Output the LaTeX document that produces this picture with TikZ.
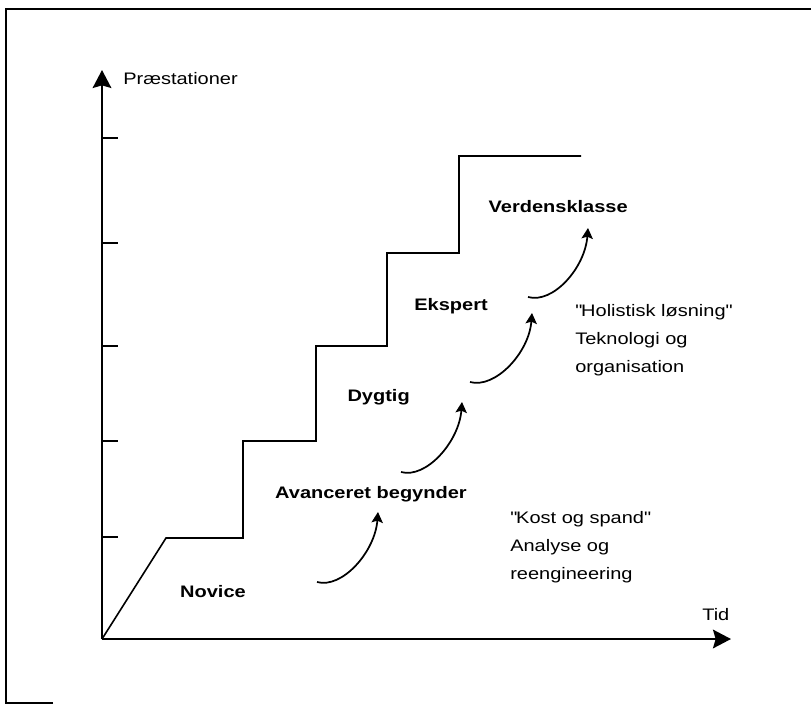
\documentclass[tikz,border=0pt]{standalone}
\usepackage{fontspec}
\setmainfont{Liberation Sans}[FakeStretch=1.2]
\usetikzlibrary{arrows.meta}
\begin{document}
\begin{tikzpicture}[x=0.75pt,y=-0.75pt,
  every node/.style={inner sep=0pt},
  axis/.style={line width=1.5pt,-{Stealth[length=13.5pt,width=14pt,inset=2pt]}},
  stair/.style={line width=1.2pt},
  tickmark/.style={line width=1.2pt},
  jump/.style={line width=1.3pt,-{Stealth[length=8pt,width=8.5pt,inset=1.5pt]}},
  level/.style={font=\bfseries\fontsize{12.5}{15}\selectfont},
  note/.style={font=\fontsize{12.5}{21}\selectfont,align=left},
  plain/.style={font=\fontsize{12.5}{15}\selectfont}]
\useasboundingbox (0,0) rectangle (811,704);

% page frame
\draw[line width=1.2pt] (53,703) -- (6,703) -- (6,9) -- (811,9);

% axes
\coordinate (O) at (102,639);
\coordinate (ytop) at (102,70);
\coordinate (xend) at (731,639);
\draw[axis] (O) -- (ytop);
\draw[axis] (O) -- (xend);
\foreach \y in {138,243,346,441,537}
  \draw[tickmark] (102,\y) -- (118,\y);

\node[plain,anchor=base west] (ylab) at (123,84) {Præstationer};
\node[plain,anchor=base west] (xlab) at (702,620) {Tid};

% staircase of performance levels
\draw[stair] (O) -- (166,538) -- (243,538) -- (243,441) -- (316,441)
  -- (316,346) -- (387,346) -- (387,253) -- (459,253) -- (459,156) -- (581,156);

% level names
\node[level] (novice) at (213,592) {Novice};
\node[level,anchor=east] (avanc) at (467,494) {Avanceret begynder};
\node[level,anchor=east] (dygtig) at (410,397) {Dygtig};
\node[level,anchor=east] (ekspert) at (488,306) {Ekspert};
\node[level,anchor=east] (verden) at (628,207) {Verdensklasse};

% transitions between levels
\coordinate (s1) at (317,582); \coordinate (e1) at (378,512);
\coordinate (s2) at (401,472); \coordinate (e2) at (462,402);
\coordinate (s3) at (470,382); \coordinate (e3) at (532,313);
\coordinate (s4) at (528,297); \coordinate (e4) at (588,228);
\draw[jump] (s1) .. controls (342,589) and (375,552) .. (e1);
\draw[jump] (s2) .. controls (426,479) and (459,442) .. (e2);
\draw[jump] (s3) .. controls (495,389) and (529,353) .. (e3);
\draw[jump] (s4) .. controls (553,304) and (585,268) .. (e4);

% explanatory notes
\node[note,anchor=north west] (kost) at (510,511)
  {\textquotedbl Kost og spand\textquotedbl\\Analyse og\\reengineering};
\node[note,anchor=north west] (holist) at (575,304)
  {\textquotedbl Holistisk løsning\textquotedbl\\Teknologi og\\organisation};
\end{tikzpicture}
\end{document}
